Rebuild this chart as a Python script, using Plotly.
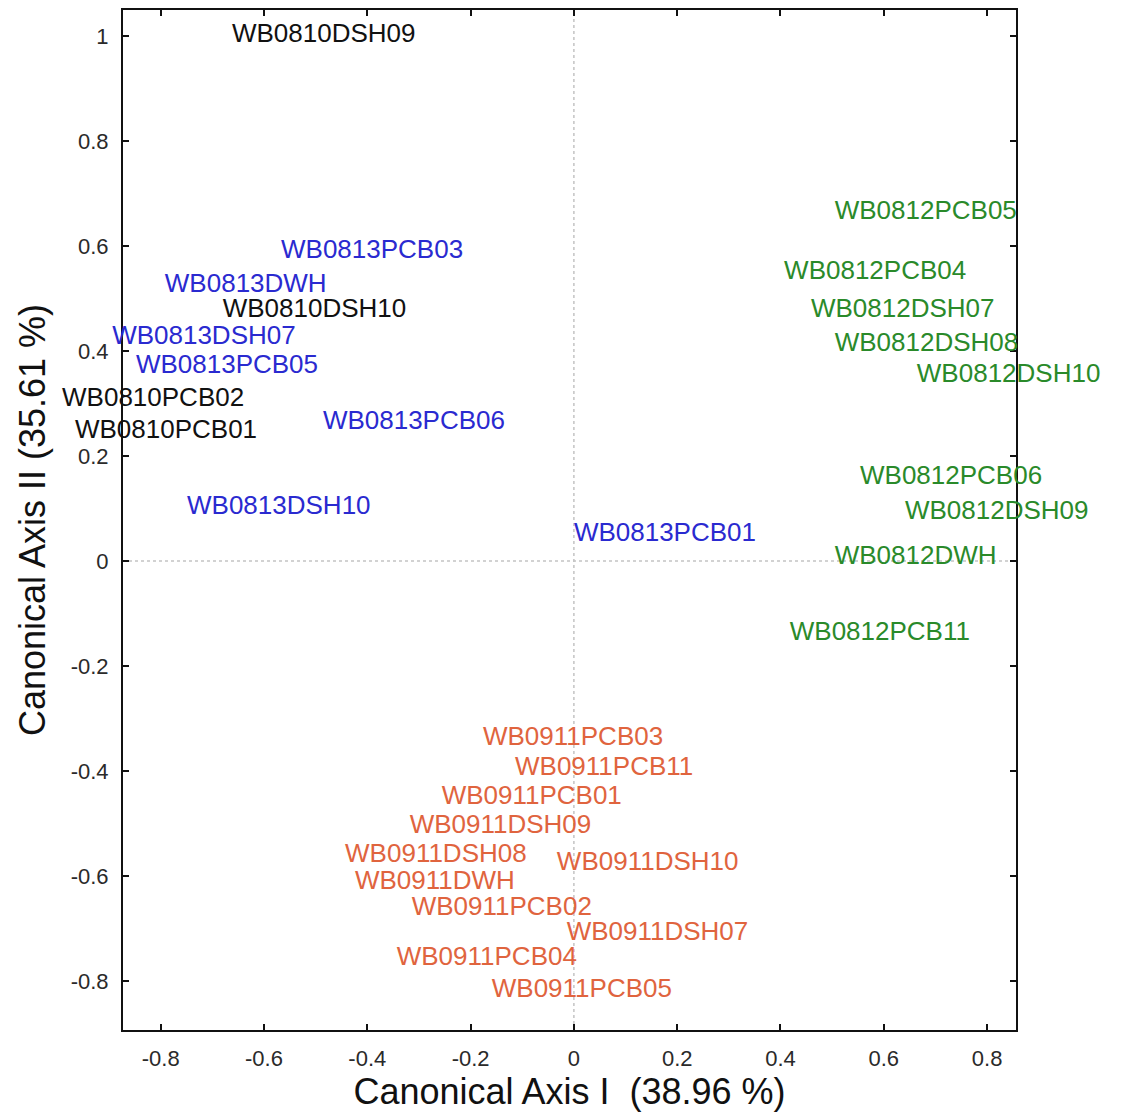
import plotly.graph_objects as go

# Canonical scores (site labels) grouped by survey campaign
black_names = ["WB0810DSH09", "WB0810DSH10", "WB0810PCB02", "WB0810PCB01"]
black_x = [-0.662, -0.680, -0.991, -0.966]
black_y = [1.000, 0.478, 0.307, 0.246]

blue_names = ["WB0813PCB03", "WB0813DWH", "WB0813DSH07", "WB0813PCB05",
              "WB0813PCB06", "WB0813DSH10", "WB0813PCB01"]
blue_x = [-0.567, -0.792, -0.894, -0.848, -0.486, -0.749, 0.000]
blue_y = [0.589, 0.524, 0.425, 0.370, 0.263, 0.103, 0.050]

green_names = ["WB0812PCB05", "WB0812PCB04", "WB0812DSH07", "WB0812DSH08",
               "WB0812DSH10", "WB0812PCB06", "WB0812DSH09", "WB0812DWH",
               "WB0812PCB11"]
green_x = [0.505, 0.407, 0.459, 0.505, 0.664, 0.554, 0.641, 0.505, 0.418]
green_y = [0.663, 0.550, 0.478, 0.413, 0.354, 0.160, 0.093, 0.006, -0.137]

orange_names = ["WB0911PCB03", "WB0911PCB11", "WB0911PCB01", "WB0911DSH09",
                "WB0911DSH08", "WB0911DSH10", "WB0911DWH", "WB0911PCB02",
                "WB0911DSH07", "WB0911PCB04", "WB0911PCB05"]
orange_x = [-0.176, -0.114, -0.256, -0.318, -0.443, -0.033, -0.424, -0.314,
            -0.014, -0.343, -0.159]
orange_y = [-0.337, -0.395, -0.450, -0.505, -0.560, -0.576, -0.613, -0.661,
            -0.709, -0.756, -0.817]

x_ticks = [-0.8, -0.6, -0.4, -0.2, 0, 0.2, 0.4, 0.6, 0.8]
x_ticktext = ["-0.8", "-0.6", "-0.4", "-0.2", "0", "0.2", "0.4", "0.6", "0.8"]
y_ticks = [1, 0.8, 0.6, 0.4, 0.2, 0, -0.2, -0.4, -0.6, -0.8]
y_ticktext = ["1", "0.8", "0.6", "0.4", "0.2", "0", "-0.2", "-0.4", "-0.6", "-0.8"]

x_title = "Canonical Axis I  (38.96 %)"
y_title = "Canonical Axis II (35.61 %)"

# axis limits of the framed plot box
X_RANGE = [-0.873, 0.856]
Y_RANGE = [-0.893, 1.0495]

# page and plot-box geometry (pixels)
W, H = 1123, 1114
BOX_L, BOX_R, BOX_T, BOX_B = 123, 1016, 10, 1030

FONT = "Liberation Sans, Arial, Helvetica, sans-serif"
LABEL_SIZE = 26

groups = [
    (black_names, black_x, black_y, "#111111"),
    (blue_names, blue_x, blue_y, "#2a2ad0"),
    (green_names, green_x, green_y, "#2a8a2a"),
    (orange_names, orange_x, orange_y, "#e0643e"),
]

# The labels may run past the frame, so they live on a hidden pair of axes that
# spans the whole page with the same data-to-pixel scale as the framed axes.
ppx = (BOX_R - BOX_L) / (X_RANGE[1] - X_RANGE[0])
ppy = (BOX_B - BOX_T) / (Y_RANGE[1] - Y_RANGE[0])
label_x_range = [X_RANGE[0] - BOX_L / ppx, X_RANGE[1] + (W - BOX_R) / ppx]
label_y_range = [Y_RANGE[0] - (H - BOX_B) / ppy, Y_RANGE[1] + BOX_T / ppy]

fig = go.Figure()

# empty trace that keeps the framed axes alive
fig.add_trace(go.Scatter(x=[], y=[], mode="markers", showlegend=False,
                         hoverinfo="skip", xaxis="x", yaxis="y"))

for names, xs, ys, color in groups:
    fig.add_trace(go.Scatter(
        x=xs, y=ys, text=names, mode="text",
        textposition="middle right",
        textfont=dict(family=FONT, size=LABEL_SIZE, color=color),
        cliponaxis=False, showlegend=False, hoverinfo="skip",
        xaxis="x2", yaxis="y2",
    ))

# dotted reference lines through the origin
fig.add_shape(type="line", xref="x", yref="y domain", x0=0, x1=0, y0=0, y1=1,
              line=dict(color="#c4c4c4", width=1.5, dash="dot"), layer="below")
fig.add_shape(type="line", xref="x domain", yref="y", x0=0, x1=1, y0=0, y1=0,
              line=dict(color="#c4c4c4", width=1.5, dash="dot"), layer="below")

axis_common = dict(
    showline=True, linecolor="#111111", linewidth=2, mirror="ticks",
    ticks="inside", ticklen=6, tickwidth=1.5, tickcolor="#111111",
    showgrid=False, zeroline=False,
    tickfont=dict(family=FONT, size=22, color="#2a2a2a"),
)

fig.update_layout(
    width=W, height=H,
    margin=dict(l=0, r=0, t=0, b=0, autoexpand=False),
    paper_bgcolor="white", plot_bgcolor="rgba(0,0,0,0)",
    xaxis=dict(domain=[BOX_L / W, BOX_R / W], range=X_RANGE, anchor="y",
               tickvals=x_ticks, ticktext=x_ticktext, ticklabelstandoff=8,
               title=dict(text=x_title,
                          font=dict(family=FONT, size=36, color="#111111"),
                          standoff=6),
               **axis_common),
    yaxis=dict(domain=[(H - BOX_B) / H, (H - BOX_T) / H], range=Y_RANGE, anchor="x",
               tickvals=y_ticks, ticktext=y_ticktext, ticklabelstandoff=8,
               title=dict(text=y_title,
                          font=dict(family=FONT, size=36, color="#111111"),
                          standoff=14),
               **axis_common),
    xaxis2=dict(domain=[0, 1], range=label_x_range, anchor="y2", visible=False),
    yaxis2=dict(domain=[0, 1], range=label_y_range, anchor="x2", visible=False),
)

fig.write_html("out.html")
